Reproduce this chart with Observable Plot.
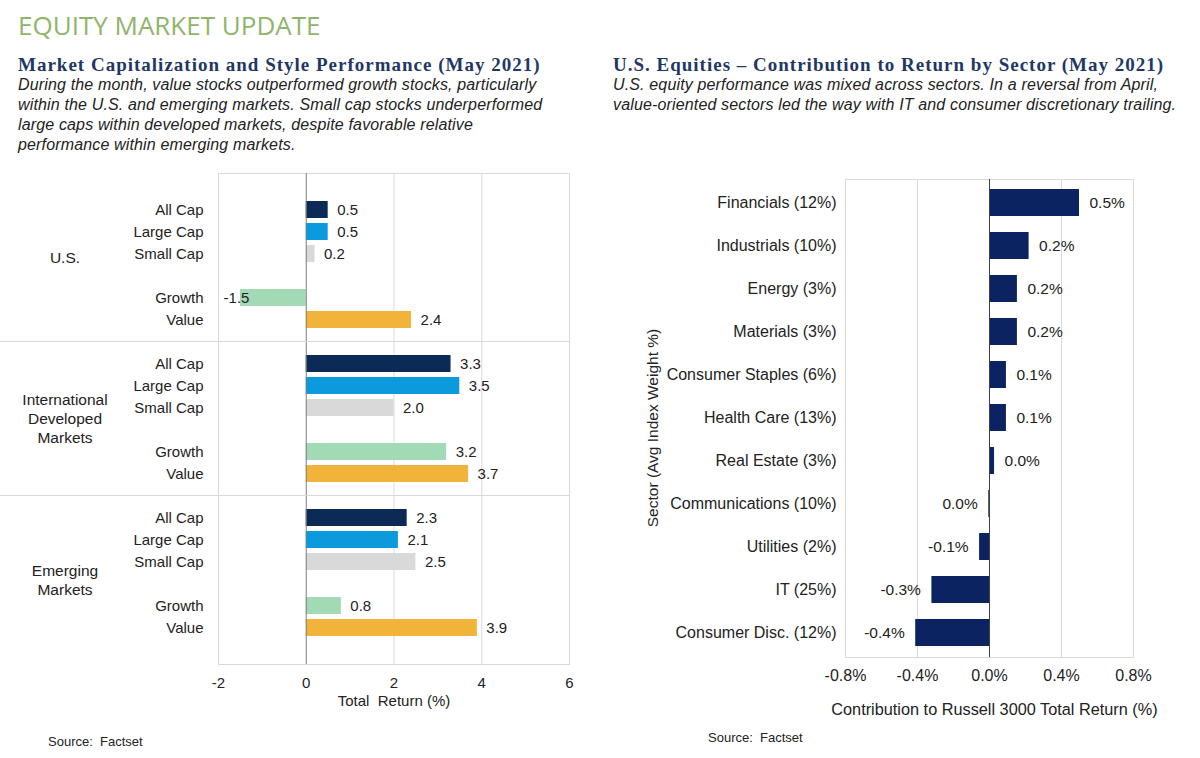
<!DOCTYPE html>
<html><head><meta charset="utf-8">
<script src="https://cdn.jsdelivr.net/npm/d3@7"></script>
<script src="https://cdn.jsdelivr.net/npm/@observablehq/plot@0.6"></script>
<style>
html,body{margin:0;padding:0;background:#fff;}
body{width:1200px;height:758px;position:relative;overflow:hidden;font-family:"Liberation Sans",Arial,sans-serif;}
.abs{position:absolute;white-space:nowrap;}
#main{left:18px;top:10px;font-family:"Open Sans",sans-serif;font-size:26px;line-height:30px;color:#8fb56a;}
.ttl{font-family:"Liberation Serif",serif;font-weight:bold;font-size:19px;line-height:20px;letter-spacing:1px;color:#1f3864;}
.sub{font-style:italic;font-size:16px;line-height:20px;letter-spacing:0.15px;color:#222;}
.src{font-size:13px;line-height:14px;color:#222;}
.chart{position:absolute;}
#ytitle{left:653px;top:428px;font-size:15.5px;color:#222;transform:translate(-50%,-50%) rotate(-90deg);}
</style></head><body>
<div id="main" class="abs">EQUITY MARKET UPDATE</div>
<div class="abs ttl" style="left:18px;top:55px;">Market Capitalization and Style Performance (May 2021)</div>
<div class="abs sub" style="left:18px;top:75px;">During the month, value stocks outperformed growth stocks, particularly<br>within the U.S. and emerging markets. Small cap stocks underperformed<br>large caps within developed markets, despite favorable relative<br>performance within emerging markets.</div>
<div class="abs ttl" style="left:613px;top:55px;">U.S. Equities – Contribution to Return by Sector (May 2021)</div>
<div class="abs sub" style="left:613px;top:75px;">U.S. equity performance was mixed across sectors. In a reversal from April,<br>value-oriented sectors led the way with IT and consumer discretionary trailing.</div>
<div id="leftChart" class="chart" style="left:0;top:150px;"></div>
<div id="rightChart" class="chart" style="left:600px;top:150px;"></div>
<div id="ytitle" class="abs">Sector (Avg Index Weight %)</div>
<div class="abs src" style="left:48px;top:735px;">Source:&nbsp; Factset</div>
<div class="abs src" style="left:708px;top:731px;">Source:&nbsp; Factset</div>
<script>
// ---- Left chart data ----
const groups = ["U.S.", "International Developed Markets", "Emerging Markets"];
const groupLabels = [["U.S."], ["International", "Developed", "Markets"], ["Emerging", "Markets"]];
const series = ["All Cap", "Large Cap", "Small Cap", "Growth", "Value"];
const usReturns = [0.5, 0.5, 0.2, -1.5, 2.4];
const intlReturns = [3.3, 3.5, 2.0, 3.2, 3.7];
const emReturns = [2.3, 2.1, 2.5, 0.8, 3.9];
const xTicksLeft = [-2, 0, 2, 4, 6];

// ---- Right chart data ----
const sectors = ["Financials (12%)", "Industrials (10%)", "Energy (3%)", "Materials (3%)", "Consumer Staples (6%)", "Health Care (13%)", "Real Estate (3%)", "Communications (10%)", "Utilities (2%)", "IT (25%)", "Consumer Disc. (12%)"];
const contributions = [0.50, 0.22, 0.155, 0.155, 0.094, 0.094, 0.028, -0.004, -0.055, -0.32, -0.41];
const contributionLabels = ["0.5%", "0.2%", "0.2%", "0.2%", "0.1%", "0.1%", "0.0%", "0.0%", "-0.1%", "-0.3%", "-0.4%"];
const xTicksRight = [-0.8, -0.4, 0, 0.4, 0.8];

const seriesColors = {"All Cap": "#0b2a55", "Large Cap": "#0b9bdc", "Small Cap": "#d9d9d9", "Growth": "#a3dab6", "Value": "#f0b43a"};
const FONT = "Liberation Sans, Arial, sans-serif";

// Build rows (with blank spacer rows)
const returnsByGroup = [usReturns, intlReturns, emReturns];
const domainKeys = [];
const labelOf = {};
const bars = [];
const separators = [];
groups.forEach((g, gi) => {
  series.forEach((s, si) => {
    if (si === 3) { const k = g + "|gap"; domainKeys.push(k); labelOf[k] = ""; }
    const k = g + "|" + s;
    domainKeys.push(k); labelOf[k] = s;
    bars.push({key: k, group: g, series: s, value: returnsByGroup[gi][si]});
  });
  if (gi < groups.length - 1) { const k = g + "|sep"; domainKeys.push(k); labelOf[k] = ""; separators.push(k); }
});

const left = Plot.plot({
  width: 600, height: 560,
  marginLeft: 218, marginRight: 31, marginTop: 23, marginBottom: 46,
  style: {fontFamily: FONT, fontSize: "15px", color: "#222", background: "transparent"},
  x: {domain: [-2, 6], ticks: xTicksLeft, tickFormat: d => String(d), tickSize: 0, tickPadding: 13, label: null},
  y: {domain: domainKeys, paddingInner: 0.23, paddingOuter: 1.2, tickSize: 0, tickPadding: 15, tickFormat: k => labelOf[k], label: null},
  marks: [
    Plot.frame({stroke: "#d9d9d9"}),
    Plot.ruleX([2, 4], {stroke: "#d9d9d9"}),
    Plot.barX(bars, {x: "value", y: "key", fill: d => seriesColors[d.series]}),
    Plot.ruleX([0], {stroke: "#7f7f7f"}),
    Plot.text(bars, {filter: d => d.value >= 0, x: "value", y: "key", text: d => d.value.toFixed(1), textAnchor: "start", dx: 9, fontSize: 15, fill: "#222"}),
    Plot.text(bars, {filter: d => d.value < 0, x: "value", y: "key", text: d => d.value.toFixed(1), textAnchor: "end", dx: 9, fontSize: 15, fill: "#222"}),
    Plot.text(["Total  Return (%)"], {frameAnchor: "bottom", dy: 41, fontSize: 15, fill: "#222"})
  ]
});
document.getElementById("leftChart").appendChild(left);
{
  const ys = left.scale("y"), xs = left.scale("x");
  const [r0, r1] = ys.range;
  const bounds = [r0];
  separators.forEach(k => {
    const yy = ys.apply(k) + ys.bandwidth / 2;
    bounds.push(yy);
    d3.select(left).append("line").attr("x1", 0).attr("x2", xs.apply(6)).attr("y1", yy).attr("y2", yy).attr("stroke", "#d9d9d9");
  });
  bounds.push(r1);
  const lh = 19;
  groups.forEach((g, gi) => {
    const cy = (bounds[gi] + bounds[gi + 1]) / 2;
    const lines = groupLabels[gi];
    const t = d3.select(left).append("text")
      .attr("text-anchor", "middle").attr("fill", "#222")
      .attr("font-family", FONT).attr("font-size", 15.5);
    lines.forEach((ln, li) => {
      t.append("tspan").attr("x", xs.apply(-2) - 153)
        .attr("y", cy + (li - (lines.length - 1) / 2) * lh)
        .attr("dy", "0.35em").text(ln);
    });
  });
}

const sectorRows = sectors.map((s, i) => ({sector: s, value: contributions[i], label: contributionLabels[i]}));
const right = Plot.plot({
  width: 600, height: 580,
  marginLeft: 245, marginRight: 67, marginTop: 29, marginBottom: 73,
  style: {fontFamily: FONT, fontSize: "16px", color: "#222", background: "transparent"},
  x: {domain: [-0.8, 0.8], ticks: xTicksRight, tickFormat: d => d.toFixed(1) + "%", tickSize: 0, tickPadding: 12, label: null, fontSize: 16.5},
  y: {domain: sectors, paddingInner: 0.37, paddingOuter: 0.17, tickSize: 0, tickPadding: 9, label: null},
  marks: [
    Plot.frame({stroke: "#d9d9d9"}),
    Plot.ruleX([-0.4, 0.4], {stroke: "#d9d9d9"}),
    Plot.barX(sectorRows, {x: "value", y: "sector", fill: "#0b2361"}),
    Plot.ruleX([0], {stroke: "#404040"}),
    Plot.text(sectorRows, {filter: d => d.value > 0, x: "value", y: "sector", text: "label", textAnchor: "start", dx: 10, fontSize: 15.5, fill: "#222"}),
    Plot.text(sectorRows, {filter: d => d.value <= 0, x: "value", y: "sector", text: "label", textAnchor: "end", dx: -11, fontSize: 15.5, fill: "#222"}),
    Plot.text(["Contribution to Russell 3000 Total Return (%)"], {frameAnchor: "bottom", dy: 57, dx: 5, fontSize: 16.3, fill: "#222"})
  ]
});
document.getElementById("rightChart").appendChild(right);
</script>
</body></html>
